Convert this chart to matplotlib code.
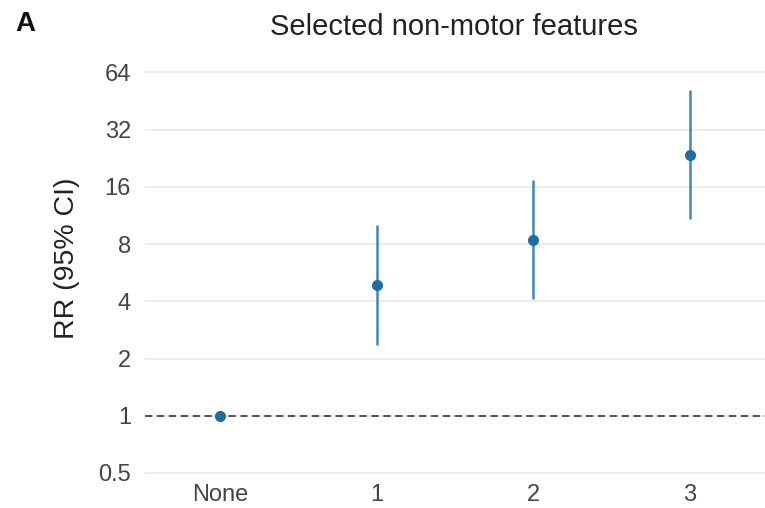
"""
Relative risk by number of selected non-motor features, log2 y axis.
"""

import matplotlib.pyplot as plt
from matplotlib.ticker import FixedLocator, FixedFormatter

plt.rcParams["font.family"] = ["Liberation Sans", "DejaVu Sans"]

# Estimates (RR) with 95% confidence intervals
groups = ["None", "1", "2", "3"]
rr = [1.0, 4.9, 8.4, 23.6]
ci_low = [1.0, 2.37, 4.1, 10.8]
ci_high = [1.0, 10.1, 17.3, 51.6]

y_ticks = [0.5, 1, 2, 4, 8, 16, 32, 64]
y_tick_labels = ["0.5", "1", "2", "4", "8", "16", "32", "64"]

POINT_COLOR = "#1f6ea3"
BAR_COLOR = "#3f88ba"
GRID_COLOR = "#ececec"
TICK_COLOR = "#444444"

fig = plt.figure(figsize=(7.65, 5.08), dpi=100)
ax = fig.add_axes([0.1895, 0.052, 0.8105, 0.828])

xs = list(range(len(groups)))

ax.set_yscale("log", base=2)
ax.set_ylim(2 ** -1.15, 2 ** 6.2)
ax.set_xlim(-0.48, 3.48)

# horizontal grid only
for t in y_ticks:
    ax.axhline(t, color=GRID_COLOR, linewidth=1.4, zorder=0)

# reference line at RR = 1
ax.axhline(1, color="#444444", linewidth=1.3, linestyle=(0, (4, 2.6)), zorder=1)

# confidence intervals
for x, lo, hi in zip(xs, ci_low, ci_high):
    if hi > lo:
        ax.plot([x, x], [lo, hi], color=BAR_COLOR, linewidth=1.8,
                solid_capstyle="butt", zorder=2)

ax.plot(xs, rr, linestyle="none", marker="o", markersize=7,
        color=POINT_COLOR, zorder=3)

ax.yaxis.set_major_locator(FixedLocator(y_ticks))
ax.yaxis.set_major_formatter(FixedFormatter(y_tick_labels))
ax.yaxis.set_minor_locator(FixedLocator([]))
ax.set_xticks(xs)
ax.set_xticklabels(groups)

ax.tick_params(axis="both", length=0, labelsize=17, labelcolor=TICK_COLOR)
ax.tick_params(axis="y", pad=10)
ax.tick_params(axis="x", pad=2)

for side in ["top", "right", "bottom", "left"]:
    ax.spines[side].set_visible(False)

fig.text(0.0876, 0.492, "RR (95% CI)", fontsize=20.5, color="#222222",
         rotation=90, ha="center", va="center")

fig.text(0.594, 0.946, "Selected non-motor features", fontsize=21,
         color="#222222", ha="center", va="center")
fig.text(0.02, 0.953, "A", fontsize=20, fontweight="bold",
         color="#111111", ha="left", va="center")

plt.savefig("out.png", dpi=100)
